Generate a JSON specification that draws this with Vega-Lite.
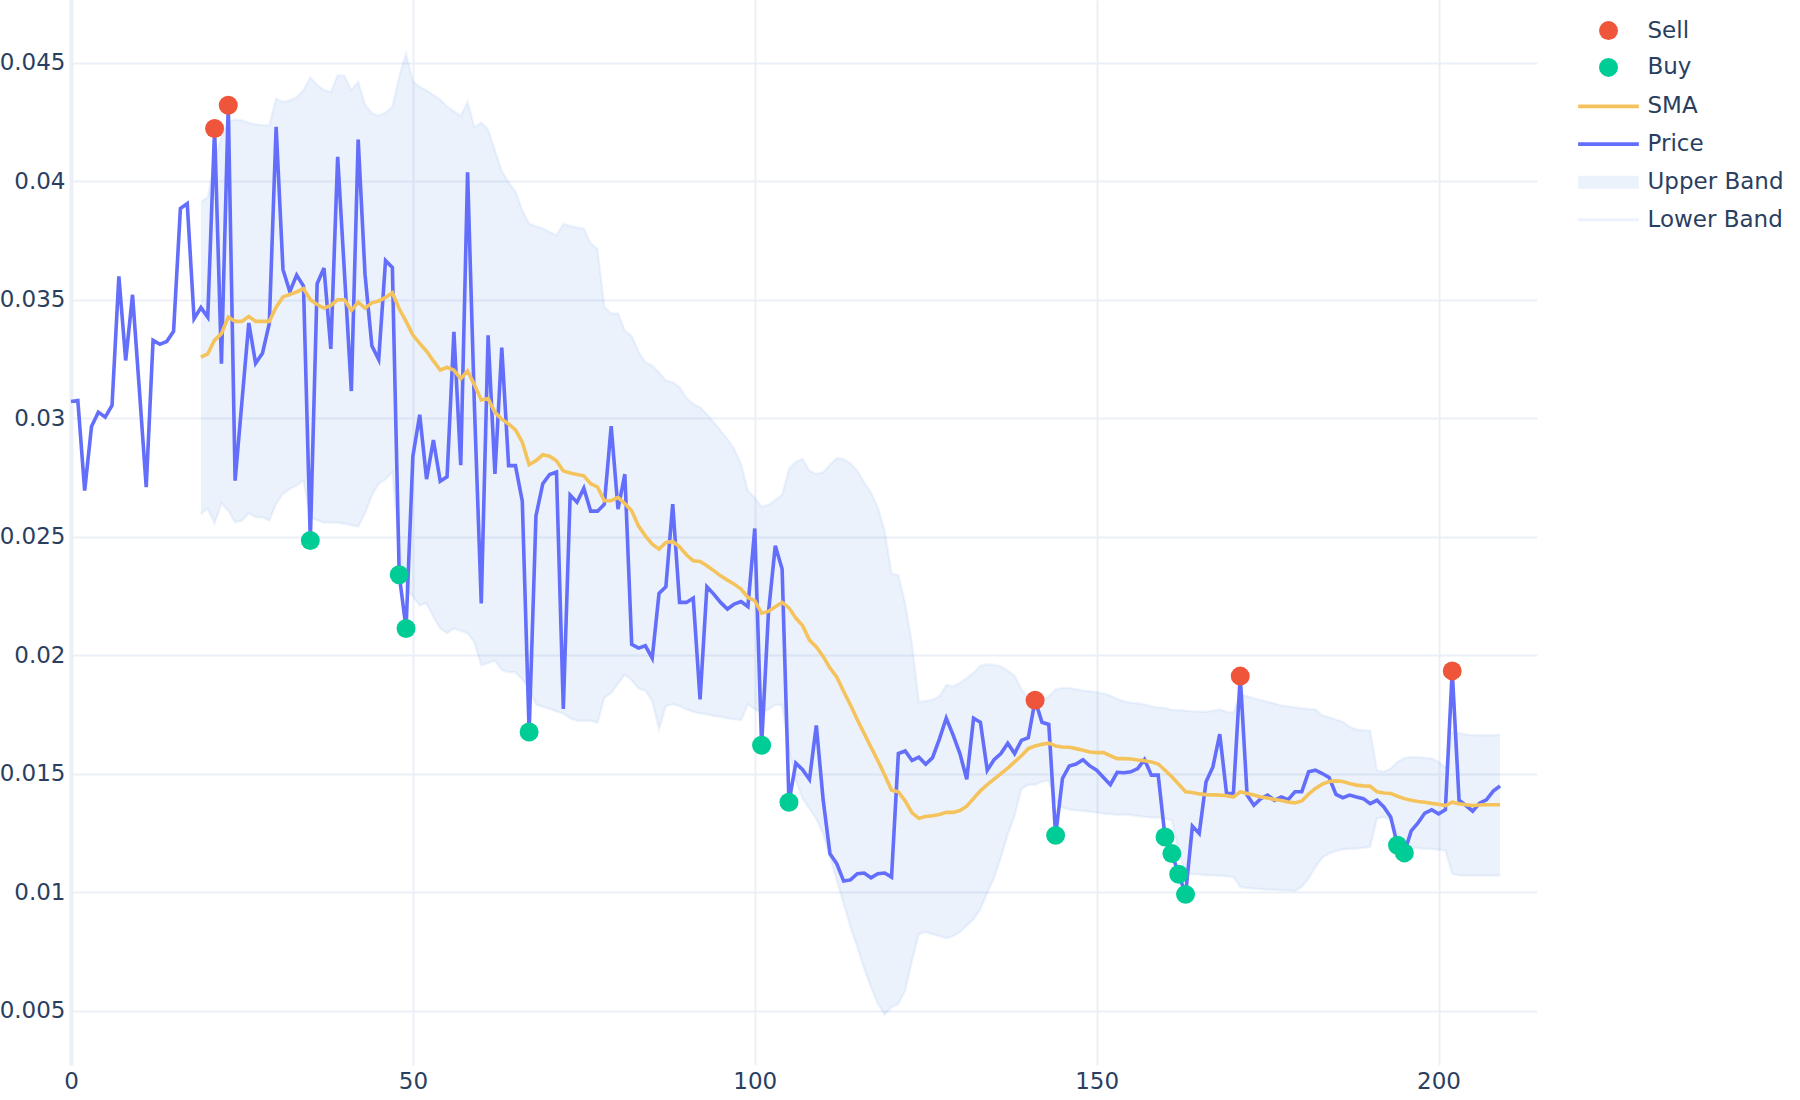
{
  "$schema": "https://vega.github.io/schema/vega-lite/v6.json",
  "width": 1466,
  "height": 1065,
  "autosize": {"type": "none"},
  "padding": {"left": 71, "top": 0, "right": 263, "bottom": 35},
  "background": "white",
  "config": {
    "view": {"stroke": null},
    "font": "DejaVu Sans",
    "axis": {
      "labelFont": "DejaVu Sans",
      "labelFontSize": 23,
      "labelColor": "#2a3f5f",
      "gridColor": "#EBF0F8",
      "gridWidth": 2,
      "ticks": false,
      "title": null
    },
    "legend": {
      "padding": 0,
      "symbolSize": 360,
      "labelFont": "DejaVu Sans",
      "labelFontSize": 23,
      "labelColor": "#2a3f5f",
      "labelOffset": 27.5,
      "rowPadding": 12.8
    }
  },
  "resolve": {"scale": {"color": "independent"}, "legend": {"color": "independent"}},
  "datasets": {
    "price": [
      {"x":0,"y":0.03071},{"x":1,"y":0.03075},{"x":2,"y":0.02695},{"x":3,"y":0.02965},{"x":4,"y":0.03026},{"x":5,"y":0.03005},{"x":6,"y":0.03054},{"x":7,"y":0.03599},{"x":8,"y":0.03244},{"x":9,"y":0.03521},
      {"x":10,"y":0.0312},{"x":11,"y":0.02709},{"x":12,"y":0.03329},{"x":13,"y":0.03312},{"x":14,"y":0.03324},{"x":15,"y":0.03367},{"x":16,"y":0.03885},{"x":17,"y":0.03906},{"x":18,"y":0.0342},{"x":19,"y":0.03467},
      {"x":20,"y":0.03427},{"x":21,"y":0.04223},{"x":22,"y":0.0323},{"x":23,"y":0.04321},{"x":24,"y":0.02737},{"x":25,"y":0.0307},{"x":26,"y":0.03402},{"x":27,"y":0.03232},{"x":28,"y":0.03274},{"x":29,"y":0.034},
      {"x":30,"y":0.0423},{"x":31,"y":0.03628},{"x":32,"y":0.03534},{"x":33,"y":0.03604},{"x":34,"y":0.03558},{"x":35,"y":0.02484},{"x":36,"y":0.03568},{"x":37,"y":0.03634},{"x":38,"y":0.03293},{"x":39,"y":0.04103},
      {"x":40,"y":0.0361},{"x":41,"y":0.03115},{"x":42,"y":0.04176},{"x":43,"y":0.03607},{"x":44,"y":0.03306},{"x":45,"y":0.03248},{"x":46,"y":0.03665},{"x":47,"y":0.03636},{"x":48,"y":0.0234},{"x":49,"y":0.02113},
      {"x":50,"y":0.0284},{"x":51,"y":0.03015},{"x":52,"y":0.02743},{"x":53,"y":0.02908},{"x":54,"y":0.02734},{"x":55,"y":0.02753},{"x":56,"y":0.03365},{"x":57,"y":0.02802},{"x":58,"y":0.04038},{"x":59,"y":0.0305},
      {"x":60,"y":0.02219},{"x":61,"y":0.0335},{"x":62,"y":0.02765},{"x":63,"y":0.03298},{"x":64,"y":0.028},{"x":65,"y":0.028},{"x":66,"y":0.0265},{"x":67,"y":0.01676},{"x":68,"y":0.02588},{"x":69,"y":0.02724},
      {"x":70,"y":0.02763},{"x":71,"y":0.02773},{"x":72,"y":0.01773},{"x":73,"y":0.02676},{"x":74,"y":0.02646},{"x":75,"y":0.02705},{"x":76,"y":0.02608},{"x":77,"y":0.02608},{"x":78,"y":0.02637},{"x":79,"y":0.02967},
      {"x":80,"y":0.02617},{"x":81,"y":0.02764},{"x":82,"y":0.02046},{"x":83,"y":0.0203},{"x":84,"y":0.0204},{"x":85,"y":0.01988},{"x":86,"y":0.02261},{"x":87,"y":0.02289},{"x":88,"y":0.02638},{"x":89,"y":0.02223},
      {"x":90,"y":0.02223},{"x":91,"y":0.02241},{"x":92,"y":0.01814},{"x":93,"y":0.02289},{"x":94,"y":0.02258},{"x":95,"y":0.02223},{"x":96,"y":0.02195},{"x":97,"y":0.02216},{"x":98,"y":0.02227},{"x":99,"y":0.02205},
      {"x":100,"y":0.02535},{"x":101,"y":0.0162},{"x":102,"y":0.0218},{"x":103,"y":0.02462},{"x":104,"y":0.02364},{"x":105,"y":0.0138},{"x":106,"y":0.01545},{"x":107,"y":0.01517},{"x":108,"y":0.01476},{"x":109,"y":0.01704},
      {"x":110,"y":0.0139},{"x":111,"y":0.01162},{"x":112,"y":0.0112},{"x":113,"y":0.01047},{"x":114,"y":0.01052},{"x":115,"y":0.01078},{"x":116,"y":0.01081},{"x":117,"y":0.01061},{"x":118,"y":0.01078},{"x":119,"y":0.01081},
      {"x":120,"y":0.01064},{"x":121,"y":0.01585},{"x":122,"y":0.01596},{"x":123,"y":0.01556},{"x":124,"y":0.0157},{"x":125,"y":0.0154},{"x":126,"y":0.01568},{"x":127,"y":0.01646},{"x":128,"y":0.01734},{"x":129,"y":0.01664},
      {"x":130,"y":0.01585},{"x":131,"y":0.01477},{"x":132,"y":0.01734},{"x":133,"y":0.01717},{"x":134,"y":0.01515},{"x":135,"y":0.01559},{"x":136,"y":0.01585},{"x":137,"y":0.01629},{"x":138,"y":0.01585},{"x":139,"y":0.01641},
      {"x":140,"y":0.01652},{"x":141,"y":0.0181},{"x":142,"y":0.01717},{"x":143,"y":0.01708},{"x":144,"y":0.0124},{"x":145,"y":0.0148},{"x":146,"y":0.01533},{"x":147,"y":0.01541},{"x":148,"y":0.01559},{"x":149,"y":0.01533},
      {"x":150,"y":0.01515},{"x":151,"y":0.01484},{"x":152,"y":0.01454},{"x":153,"y":0.01506},{"x":154,"y":0.01504},{"x":155,"y":0.01508},{"x":156,"y":0.01522},{"x":157,"y":0.0156},{"x":158,"y":0.01494},{"x":159,"y":0.01494},
      {"x":160,"y":0.01233},{"x":161,"y":0.01163},{"x":162,"y":0.01076},{"x":163,"y":0.00991},{"x":164,"y":0.01279},{"x":165,"y":0.01248},{"x":166,"y":0.01466},{"x":167,"y":0.01529},{"x":168,"y":0.01667},{"x":169,"y":0.01416},
      {"x":170,"y":0.01416},{"x":171,"y":0.01912},{"x":172,"y":0.0141},{"x":173,"y":0.01367},{"x":174,"y":0.01395},{"x":175,"y":0.0141},{"x":176,"y":0.01388},{"x":177,"y":0.01402},{"x":178,"y":0.01391},{"x":179,"y":0.01424},
      {"x":180,"y":0.01424},{"x":181,"y":0.01508},{"x":182,"y":0.01515},{"x":183,"y":0.01501},{"x":184,"y":0.01484},{"x":185,"y":0.01413},{"x":186,"y":0.01399},{"x":187,"y":0.0141},{"x":188,"y":0.01402},{"x":189,"y":0.01395},
      {"x":190,"y":0.01374},{"x":191,"y":0.01388},{"x":192,"y":0.0136},{"x":193,"y":0.01318},{"x":194,"y":0.01198},{"x":195,"y":0.01166},{"x":196,"y":0.01259},{"x":197,"y":0.01293},{"x":198,"y":0.01334},{"x":199,"y":0.01348},
      {"x":200,"y":0.01331},{"x":201,"y":0.01348},{"x":202,"y":0.01934},{"x":203,"y":0.01388},{"x":204,"y":0.01366},{"x":205,"y":0.01342},{"x":206,"y":0.01376},{"x":207,"y":0.0139},{"x":208,"y":0.01427},{"x":209,"y":0.01448}
    ],
    "sma": [
      {"x":19,"y":0.03258},{"x":20,"y":0.03272},{"x":21,"y":0.0333},{"x":22,"y":0.03357},{"x":23,"y":0.03427},{"x":24,"y":0.03409},{"x":25,"y":0.03409},{"x":26,"y":0.0343},{"x":27,"y":0.03409},{"x":28,"y":0.03409},{"x":29,"y":0.03409},
      {"x":30,"y":0.03469},{"x":31,"y":0.03512},{"x":32,"y":0.03523},{"x":33,"y":0.03533},{"x":34,"y":0.03547},{"x":35,"y":0.035},{"x":36,"y":0.0348},{"x":37,"y":0.03465},{"x":38,"y":0.03476},{"x":39,"y":0.035},
      {"x":40,"y":0.035},{"x":41,"y":0.03455},{"x":42,"y":0.0349},{"x":43,"y":0.03465},{"x":44,"y":0.03487},{"x":45,"y":0.03495},{"x":46,"y":0.0351},{"x":47,"y":0.0353},{"x":48,"y":0.03462},{"x":49,"y":0.03409},
      {"x":50,"y":0.03351},{"x":51,"y":0.03316},{"x":52,"y":0.03283},{"x":53,"y":0.03242},{"x":54,"y":0.03203},{"x":55,"y":0.03215},{"x":56,"y":0.03203},{"x":57,"y":0.03167},{"x":58,"y":0.032},{"x":59,"y":0.03141},
      {"x":60,"y":0.03077},{"x":61,"y":0.03083},{"x":62,"y":0.03025},{"x":63,"y":0.02996},{"x":64,"y":0.02976},{"x":65,"y":0.02951},{"x":66,"y":0.02899},{"x":67,"y":0.02805},{"x":68,"y":0.02821},{"x":69,"y":0.02846},
      {"x":70,"y":0.0284},{"x":71,"y":0.02821},{"x":72,"y":0.02778},{"x":73,"y":0.02769},{"x":74,"y":0.02763},{"x":75,"y":0.02757},{"x":76,"y":0.02724},{"x":77,"y":0.0271},{"x":78,"y":0.02652},{"x":79,"y":0.02652},
      {"x":80,"y":0.02666},{"x":81,"y":0.0264},{"x":82,"y":0.0261},{"x":83,"y":0.02545},{"x":84,"y":0.02504},{"x":85,"y":0.02469},{"x":86,"y":0.02448},{"x":87,"y":0.02476},{"x":88,"y":0.0248},{"x":89,"y":0.02458},
      {"x":90,"y":0.02424},{"x":91,"y":0.02399},{"x":92,"y":0.02396},{"x":93,"y":0.02378},{"x":94,"y":0.02357},{"x":95,"y":0.02335},{"x":96,"y":0.02317},{"x":97,"y":0.023},{"x":98,"y":0.02279},{"x":99,"y":0.02244},
      {"x":100,"y":0.0223},{"x":101,"y":0.02178},{"x":102,"y":0.02185},{"x":103,"y":0.02205},{"x":104,"y":0.02223},{"x":105,"y":0.022},{"x":106,"y":0.02157},{"x":107,"y":0.02125},{"x":108,"y":0.02064},{"x":109,"y":0.02035},
      {"x":110,"y":0.01995},{"x":111,"y":0.01946},{"x":112,"y":0.01907},{"x":113,"y":0.01847},{"x":114,"y":0.0179},{"x":115,"y":0.01728},{"x":116,"y":0.0167},{"x":117,"y":0.01612},{"x":118,"y":0.01555},{"x":119,"y":0.01495},
      {"x":120,"y":0.01431},{"x":121,"y":0.01424},{"x":122,"y":0.01385},{"x":123,"y":0.01335},{"x":124,"y":0.01312},{"x":125,"y":0.0132},{"x":126,"y":0.01323},{"x":127,"y":0.01328},{"x":128,"y":0.01337},{"x":129,"y":0.01337},
      {"x":130,"y":0.01345},{"x":131,"y":0.01363},{"x":132,"y":0.01396},{"x":133,"y":0.01428},{"x":134,"y":0.01454},{"x":135,"y":0.01477},{"x":136,"y":0.01501},{"x":137,"y":0.01524},{"x":138,"y":0.0155},{"x":139,"y":0.01576},
      {"x":140,"y":0.01606},{"x":141,"y":0.01617},{"x":142,"y":0.01624},{"x":143,"y":0.01629},{"x":144,"y":0.01617},{"x":145,"y":0.01613},{"x":146,"y":0.01612},{"x":147,"y":0.01606},{"x":148,"y":0.01599},{"x":149,"y":0.01592},
      {"x":150,"y":0.01589},{"x":151,"y":0.01589},{"x":152,"y":0.01576},{"x":153,"y":0.01564},{"x":154,"y":0.01564},{"x":155,"y":0.01562},{"x":156,"y":0.01558},{"x":157,"y":0.01555},{"x":158,"y":0.0155},{"x":159,"y":0.01541},
      {"x":160,"y":0.01515},{"x":161,"y":0.01487},{"x":162,"y":0.01456},{"x":163,"y":0.01424},{"x":164,"y":0.01421},{"x":165,"y":0.01415},{"x":166,"y":0.01412},{"x":167,"y":0.01411},{"x":168,"y":0.0141},{"x":169,"y":0.01407},
      {"x":170,"y":0.01402},{"x":171,"y":0.01424},{"x":172,"y":0.01417},{"x":173,"y":0.0141},{"x":174,"y":0.01402},{"x":175,"y":0.01398},{"x":176,"y":0.01391},{"x":177,"y":0.01387},{"x":178,"y":0.01381},{"x":179,"y":0.01377},
      {"x":180,"y":0.01385},{"x":181,"y":0.01414},{"x":182,"y":0.01438},{"x":183,"y":0.01456},{"x":184,"y":0.01467},{"x":185,"y":0.0147},{"x":186,"y":0.01467},{"x":187,"y":0.01459},{"x":188,"y":0.01452},{"x":189,"y":0.01449},
      {"x":190,"y":0.01447},{"x":191,"y":0.01424},{"x":192,"y":0.01419},{"x":193,"y":0.01417},{"x":194,"y":0.01405},{"x":195,"y":0.01395},{"x":196,"y":0.01388},{"x":197,"y":0.01383},{"x":198,"y":0.0138},{"x":199,"y":0.01375},
      {"x":200,"y":0.01371},{"x":201,"y":0.01366},{"x":202,"y":0.0138},{"x":203,"y":0.01373},{"x":204,"y":0.01369},{"x":205,"y":0.01366},{"x":206,"y":0.01368},{"x":207,"y":0.01369},{"x":208,"y":0.01369},{"x":209,"y":0.01369}
    ],
    "band": [
      {"x":19,"lo":0.02596,"hi":0.03913},{"x":20,"lo":0.02618,"hi":0.03934},{"x":21,"lo":0.02557,"hi":0.04089},{"x":22,"lo":0.02641,"hi":0.04187},{"x":23,"lo":0.0261,"hi":0.04251},{"x":24,"lo":0.02561,"hi":0.04261},{"x":25,"lo":0.02568,"hi":0.04258},{"x":26,"lo":0.02599,"hi":0.04247},{"x":27,"lo":0.02582,"hi":0.04241},{"x":28,"lo":0.02582,"hi":0.04238},{"x":29,"lo":0.02568,"hi":0.04237},
      {"x":30,"lo":0.02639,"hi":0.04349},{"x":31,"lo":0.02681,"hi":0.04335},{"x":32,"lo":0.02702,"hi":0.04342},{"x":33,"lo":0.02716,"hi":0.04354},{"x":34,"lo":0.02737,"hi":0.04385},{"x":35,"lo":0.0258,"hi":0.04438},{"x":36,"lo":0.0257,"hi":0.04406},{"x":37,"lo":0.0256,"hi":0.04385},{"x":38,"lo":0.0256,"hi":0.04377},{"x":39,"lo":0.0256,"hi":0.04448},
      {"x":40,"lo":0.02555,"hi":0.04445},{"x":41,"lo":0.02549,"hi":0.04385},{"x":42,"lo":0.02543,"hi":0.0442},{"x":43,"lo":0.02598,"hi":0.04325},{"x":44,"lo":0.02675,"hi":0.04287},{"x":45,"lo":0.02724,"hi":0.04277},{"x":46,"lo":0.02743,"hi":0.0429},{"x":47,"lo":0.02773,"hi":0.04316},{"x":48,"lo":0.0245,"hi":0.04442},{"x":49,"lo":0.02278,"hi":0.04539},
      {"x":50,"lo":0.02248,"hi":0.04422},{"x":51,"lo":0.0221,"hi":0.04399},{"x":52,"lo":0.02219,"hi":0.04384},{"x":53,"lo":0.02161,"hi":0.04364},{"x":54,"lo":0.02113,"hi":0.04345},{"x":55,"lo":0.02093,"hi":0.04316},{"x":56,"lo":0.02113,"hi":0.04296},{"x":57,"lo":0.02103,"hi":0.04277},{"x":58,"lo":0.02093,"hi":0.04335},{"x":59,"lo":0.02054,"hi":0.04228},
      {"x":60,"lo":0.01957,"hi":0.04248},{"x":61,"lo":0.01967,"hi":0.04219},{"x":62,"lo":0.01977,"hi":0.04131},{"x":63,"lo":0.01938,"hi":0.04044},{"x":64,"lo":0.01928,"hi":0.03995},{"x":65,"lo":0.01928,"hi":0.03957},{"x":66,"lo":0.01899,"hi":0.03879},{"x":67,"lo":0.0186,"hi":0.03821},{"x":68,"lo":0.01792,"hi":0.03811},{"x":69,"lo":0.01783,"hi":0.03801},
      {"x":70,"lo":0.01773,"hi":0.03786},{"x":71,"lo":0.01763,"hi":0.03772},{"x":72,"lo":0.01754,"hi":0.03821},{"x":73,"lo":0.01734,"hi":0.03811},{"x":74,"lo":0.01724,"hi":0.03805},{"x":75,"lo":0.01724,"hi":0.03801},{"x":76,"lo":0.01724,"hi":0.03739},{"x":77,"lo":0.01715,"hi":0.03714},{"x":78,"lo":0.01821,"hi":0.03471},{"x":79,"lo":0.01841,"hi":0.03442},
      {"x":80,"lo":0.0188,"hi":0.03442},{"x":81,"lo":0.01918,"hi":0.0337},{"x":82,"lo":0.01895,"hi":0.03348},{"x":83,"lo":0.0186,"hi":0.03282},{"x":84,"lo":0.0185,"hi":0.03237},{"x":85,"lo":0.01807,"hi":0.03222},{"x":86,"lo":0.01688,"hi":0.03194},{"x":87,"lo":0.01786,"hi":0.03159},{"x":88,"lo":0.01793,"hi":0.03152},{"x":89,"lo":0.01786,"hi":0.03131},
      {"x":90,"lo":0.01772,"hi":0.03086},{"x":91,"lo":0.01762,"hi":0.03061},{"x":92,"lo":0.01754,"hi":0.03046},{"x":93,"lo":0.01751,"hi":0.03018},{"x":94,"lo":0.01744,"hi":0.02983},{"x":95,"lo":0.0174,"hi":0.02948},{"x":96,"lo":0.01734,"hi":0.02913},{"x":97,"lo":0.0173,"hi":0.0287},{"x":98,"lo":0.01726,"hi":0.02807},{"x":99,"lo":0.01793,"hi":0.02694},
      {"x":100,"lo":0.01772,"hi":0.02666},{"x":101,"lo":0.01758,"hi":0.02627},{"x":102,"lo":0.01772,"hi":0.02635},{"x":103,"lo":0.0179,"hi":0.02655},{"x":104,"lo":0.0179,"hi":0.02678},{"x":105,"lo":0.01599,"hi":0.02786},{"x":106,"lo":0.01472,"hi":0.02817},{"x":107,"lo":0.01395,"hi":0.02828},{"x":108,"lo":0.01352,"hi":0.02779},{"x":109,"lo":0.0131,"hi":0.02765},
      {"x":110,"lo":0.01247,"hi":0.02772},{"x":111,"lo":0.01148,"hi":0.02804},{"x":112,"lo":0.0105,"hi":0.02832},{"x":113,"lo":0.00951,"hi":0.02828},{"x":114,"lo":0.00853,"hi":0.0281},{"x":115,"lo":0.00768,"hi":0.02779},{"x":116,"lo":0.00677,"hi":0.0273},{"x":117,"lo":0.00599,"hi":0.02687},{"x":118,"lo":0.00529,"hi":0.02624},{"x":119,"lo":0.00484,"hi":0.02525},
      {"x":120,"lo":0.00515,"hi":0.02345},{"x":121,"lo":0.00529,"hi":0.02338},{"x":122,"lo":0.00585,"hi":0.02218},{"x":123,"lo":0.00712,"hi":0.02049},{"x":124,"lo":0.00824,"hi":0.01803},{"x":125,"lo":0.00832,"hi":0.01807},{"x":126,"lo":0.00823,"hi":0.01813},{"x":127,"lo":0.00815,"hi":0.01827},{"x":128,"lo":0.00806,"hi":0.01874},{"x":129,"lo":0.00815,"hi":0.01869},
      {"x":130,"lo":0.00832,"hi":0.01883},{"x":131,"lo":0.00859,"hi":0.01904},{"x":132,"lo":0.00885,"hi":0.01927},{"x":133,"lo":0.00929,"hi":0.01956},{"x":134,"lo":0.00999,"hi":0.01962},{"x":135,"lo":0.0106,"hi":0.0196},{"x":136,"lo":0.01147,"hi":0.01953},{"x":137,"lo":0.01244,"hi":0.01935},{"x":138,"lo":0.01323,"hi":0.01914},{"x":139,"lo":0.01436,"hi":0.01857},
      {"x":140,"lo":0.01454,"hi":0.01822},{"x":141,"lo":0.01454,"hi":0.01795},{"x":142,"lo":0.01466,"hi":0.01809},{"x":143,"lo":0.01471,"hi":0.01827},{"x":144,"lo":0.01384,"hi":0.01857},{"x":145,"lo":0.01357,"hi":0.01862},{"x":146,"lo":0.01349,"hi":0.01862},{"x":147,"lo":0.01345,"hi":0.01857},{"x":148,"lo":0.01344,"hi":0.01851},{"x":149,"lo":0.0134,"hi":0.01848},
      {"x":150,"lo":0.01337,"hi":0.01844},{"x":151,"lo":0.01331,"hi":0.01839},{"x":152,"lo":0.0133,"hi":0.0183},{"x":153,"lo":0.01326,"hi":0.01816},{"x":154,"lo":0.01328,"hi":0.01806},{"x":155,"lo":0.01326,"hi":0.018},{"x":156,"lo":0.01322,"hi":0.01798},{"x":157,"lo":0.01318,"hi":0.01792},{"x":158,"lo":0.01315,"hi":0.01785},{"x":159,"lo":0.01315,"hi":0.0178},
      {"x":160,"lo":0.01311,"hi":0.01779},{"x":161,"lo":0.01304,"hi":0.01769},{"x":162,"lo":0.0117,"hi":0.01769},{"x":163,"lo":0.01079,"hi":0.01766},{"x":164,"lo":0.01076,"hi":0.01764},{"x":165,"lo":0.01075,"hi":0.01763},{"x":166,"lo":0.01072,"hi":0.01762},{"x":167,"lo":0.01072,"hi":0.01766},{"x":168,"lo":0.0107,"hi":0.01771},{"x":169,"lo":0.01067,"hi":0.01762},
      {"x":170,"lo":0.01065,"hi":0.01757},{"x":171,"lo":0.01022,"hi":0.01836},{"x":172,"lo":0.01018,"hi":0.01827},{"x":173,"lo":0.01015,"hi":0.01818},{"x":174,"lo":0.01014,"hi":0.01811},{"x":175,"lo":0.01011,"hi":0.01804},{"x":176,"lo":0.01011,"hi":0.01797},{"x":177,"lo":0.01008,"hi":0.01788},{"x":178,"lo":0.01008,"hi":0.01785},{"x":179,"lo":0.01005,"hi":0.0178},
      {"x":180,"lo":0.01022,"hi":0.01776},{"x":181,"lo":0.01058,"hi":0.01773},{"x":182,"lo":0.01107,"hi":0.01771},{"x":183,"lo":0.01146,"hi":0.01747},{"x":184,"lo":0.01163,"hi":0.01738},{"x":185,"lo":0.01174,"hi":0.01729},{"x":186,"lo":0.0118,"hi":0.01719},{"x":187,"lo":0.01183,"hi":0.01698},{"x":188,"lo":0.01184,"hi":0.01687},{"x":189,"lo":0.01188,"hi":0.01684},
      {"x":190,"lo":0.01191,"hi":0.01681},{"x":191,"lo":0.01311,"hi":0.01515},{"x":192,"lo":0.01318,"hi":0.01508},{"x":193,"lo":0.01304,"hi":0.01522},{"x":194,"lo":0.01247,"hi":0.01551},{"x":195,"lo":0.01205,"hi":0.01566},{"x":196,"lo":0.0119,"hi":0.01571},{"x":197,"lo":0.01186,"hi":0.01571},{"x":198,"lo":0.01183,"hi":0.01568},{"x":199,"lo":0.01182,"hi":0.01564},
      {"x":200,"lo":0.01179,"hi":0.0155},{"x":201,"lo":0.01176,"hi":0.01526},{"x":202,"lo":0.01078,"hi":0.01676},{"x":203,"lo":0.01071,"hi":0.01672},{"x":204,"lo":0.01071,"hi":0.01666},{"x":205,"lo":0.01071,"hi":0.01663},{"x":206,"lo":0.01071,"hi":0.01662},{"x":207,"lo":0.01071,"hi":0.01662},{"x":208,"lo":0.01071,"hi":0.01662},{"x":209,"lo":0.01071,"hi":0.01665}
    ],
    "signals": [
      {"x":21,"y":0.04223,"s":"Sell"},{"x":23,"y":0.04321,"s":"Sell"},{"x":141,"y":0.0181,"s":"Sell"},{"x":171,"y":0.01912,"s":"Sell"},{"x":202,"y":0.01934,"s":"Sell"},
      {"x":35,"y":0.02484,"s":"Buy"},{"x":48,"y":0.0234,"s":"Buy"},{"x":49,"y":0.02113,"s":"Buy"},{"x":67,"y":0.01676,"s":"Buy"},{"x":101,"y":0.0162,"s":"Buy"},{"x":105,"y":0.0138,"s":"Buy"},{"x":144,"y":0.0124,"s":"Buy"},
      {"x":160,"y":0.01233,"s":"Buy"},{"x":161,"y":0.01163,"s":"Buy"},{"x":162,"y":0.01076,"s":"Buy"},{"x":163,"y":0.00991,"s":"Buy"},{"x":194,"y":0.01198,"s":"Buy"},{"x":195,"y":0.01166,"s":"Buy"}
    ]
  },
  "encoding": {
    "x": {
      "field": "x", "type": "quantitative",
      "scale": {"domain": [0, 214.4], "nice": false, "zero": false},
      "axis": {"values": [0, 50, 100, 150, 200], "format": "d", "domain": false, "labelPadding": 5, "labelFlush": false, "grid": true}
    }
  },
  "layer": [
    {
      "data": {"name": "band"},
      "mark": {"type": "area", "opacity": 0.1},
      "encoding": {
        "y": {
          "field": "lo", "type": "quantitative",
          "scale": {"domain": [0.00271, 0.04765], "nice": false, "zero": false},
          "axis": {"values": [0.005, 0.01, 0.015, 0.02, 0.025, 0.03, 0.035, 0.04, 0.045], "format": ".3~f", "domain": true, "domainColor": "#EBF0F8", "domainWidth": 4, "labelPadding": 6, "labelFlush": false, "grid": true}
        },
        "y2": {"field": "hi"},
        "color": {
          "datum": "Upper Band",
          "scale": {"range": ["#3b7ddd"]},
          "legend": {"orient": "none", "legendX": 1526, "legendY": 170.7, "title": null, "symbolType": "M-3.2,-0.68H3.2V0.68H-3.2Z", "symbolOpacity": 0.1}
        }
      }
    },
    {
      "data": {"name": "band"},
      "mark": {"type": "line", "opacity": 0.07, "strokeWidth": 2.5, "color": "#3b7ddd"},
      "encoding": {"y": {"field": "hi", "type": "quantitative"}}
    },
    {
      "data": {"name": "band"},
      "mark": {"type": "line", "opacity": 0.08, "strokeWidth": 2.5},
      "encoding": {
        "y": {"field": "lo", "type": "quantitative"},
        "color": {
          "datum": "Lower Band",
          "scale": {"range": ["#3b7ddd"]},
          "legend": {"orient": "none", "legendX": 1526, "legendY": 208.3, "title": null, "symbolType": "M-3.2,0H3.2", "symbolStrokeWidth": 3, "symbolOpacity": 0.09}
        }
      }
    },
    {
      "data": {"name": "price"},
      "mark": {"type": "line", "strokeWidth": 3.6},
      "encoding": {
        "y": {"field": "y", "type": "quantitative"},
        "color": {
          "datum": "Price",
          "scale": {"range": ["#636EFA"]},
          "legend": {"orient": "none", "legendX": 1526, "legendY": 132.6, "title": null, "symbolType": "M-3.2,0H3.2", "symbolStrokeWidth": 3.8}
        }
      }
    },
    {
      "data": {"name": "sma"},
      "mark": {"type": "line", "strokeWidth": 3.6},
      "encoding": {
        "y": {"field": "y", "type": "quantitative"},
        "color": {
          "datum": "SMA",
          "scale": {"range": ["#F5C35C"]},
          "legend": {"orient": "none", "legendX": 1526, "legendY": 94.9, "title": null, "symbolType": "M-3.2,0H3.2", "symbolStrokeWidth": 3.8}
        }
      }
    },
    {
      "data": {"name": "signals"},
      "mark": {"type": "point", "filled": true, "opacity": 1, "size": 360, "shape": "circle"},
      "encoding": {
        "y": {"field": "y", "type": "quantitative"},
        "color": {
          "field": "s", "type": "nominal",
          "scale": {"domain": ["Sell", "Buy"], "range": ["#EF553B", "#00CC96"]},
          "legend": {"orient": "none", "legendX": 1526, "legendY": 19.1, "title": null, "symbolType": "circle", "symbolOpacity": 1}
        }
      }
    }
  ]
}
